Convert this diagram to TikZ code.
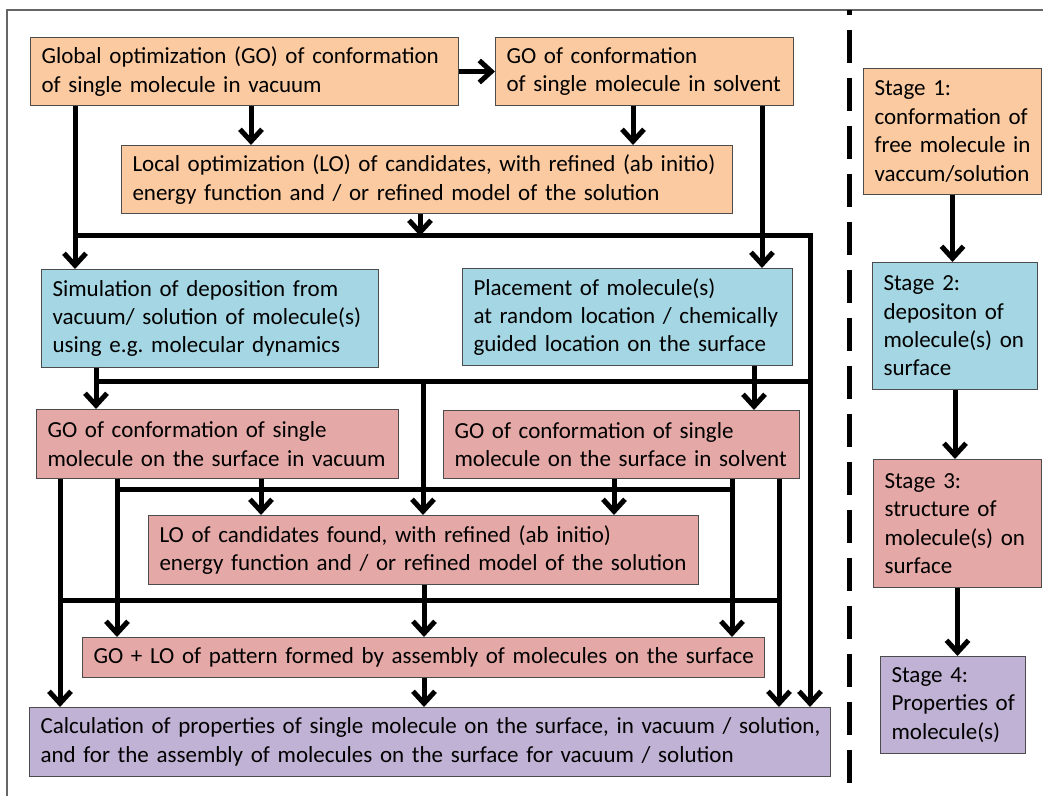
\documentclass[tikz,border=0pt]{standalone}
\usepackage{fontspec}
\setmainfont{Carlito}
\usepackage{tikz}
\usetikzlibrary{arrows.meta}

\definecolor{stageone}{RGB}{251,202,160}
\definecolor{stagetwo}{RGB}{165,214,227}
\definecolor{stagethree}{RGB}{228,168,166}
\definecolor{stagefour}{RGB}{192,178,212}

\hyphenpenalty=10000
\linepenalty=1000

\begin{document}
\begin{tikzpicture}[x=0.5pt,y=-0.5pt,>={Straight Barb[length=6pt,width=11pt]},
    box/.style={draw=black!70,line width=0.5pt,anchor=north west,
                inner xsep=5.5pt,inner ysep=0pt,font=\fontsize{11.5}{14.2}\selectfont,
                execute at begin node={\raggedright\rightskip=0pt plus 1fil minus 10pt\relax}},
    flow/.style={line width=2.5pt},
    frame/.style={draw=black!60,line width=0.6pt}]
  \useasboundingbox (0,0) rectangle (1043,796);

  % frame and divider
  \draw[frame] (7,796) -- (7,10) -- (1043,10);
  \draw[line width=2.5pt,dash pattern=on 16.5pt off 7.5pt,dash phase=14pt] (849,10) -- (849,796);

  % stage 1: free molecule
  \node[box,fill=stageone,text width=203pt,minimum height=34pt] (globvac) at (30,37)
    {Global optimization (GO) of conformation\\of single molecule in vacuum};
  \node[box,fill=stageone,text width=138pt,minimum height=34pt] (globsol) at (495,37)
    {GO of conformation\\of single molecule in solvent};
  \node[box,fill=stageone,text width=294.5pt,minimum height=34pt] (locopt) at (121,145)
    {Local optimization (LO) of candidates, with refined (ab initio)\\energy function and / or refined model of the solution};

  % stage 2: deposition
  \node[box,fill=stagetwo,text width=157.5pt,minimum height=49pt] (depsim) at (41,269)
    {Simulation of deposition from\\vacuum/ solution of molecule(s)\\using e.g.\ molecular dynamics};
  \node[box,fill=stagetwo,text width=154pt,minimum height=48.5pt] (placement) at (462,268)
    {Placement of molecule(s)\\at random location / chemically\\guided location on the surface};

  % stage 3: structure on surface
  \node[box,fill=stagethree,text width=170pt,minimum height=34.5pt] (surfvac) at (36,409)
    {GO of conformation of single\\molecule on the surface in vacuum};
  \node[box,fill=stagethree,text width=167pt,minimum height=34pt] (surfsol) at (443,410)
    {GO of conformation of single\\molecule on the surface in solvent};
  \node[box,fill=stagethree,text width=264pt,minimum height=34.5pt] (losurf) at (148,515)
    {LO of candidates found, with refined (ab initio)\\energy function and / or refined model of the solution};
  \node[box,fill=stagethree,text width=330pt,minimum height=20pt] (pattern) at (82,637)
    {GO + LO of pattern formed by assembly of molecules on the surface};

  % stage 4: properties
  \node[box,fill=stagefour,text width=389.5pt,minimum height=34.5pt] (props) at (29,707)
    {Calculation of properties of single molecule on the surface, in vacuum / solution,\\and for the assembly of molecules on the surface for vacuum / solution};

  % legend of stages
  \node[box,fill=stageone,text width=78pt,minimum height=63pt] (stage1) at (863,68)
    {Stage 1:\\conformation of\\free molecule in\\vaccum/solution};
  \node[box,fill=stagetwo,text width=71.5pt,minimum height=63.5pt] (stage2) at (872,262)
    {Stage 2:\\depositon of\\molecule(s) on\\surface};
  \node[box,fill=stagethree,text width=73pt,minimum height=64pt] (stage3) at (873,459)
    {Stage 3:\\structure of\\molecule(s) on\\surface};
  \node[box,fill=stagefour,text width=61.5pt,minimum height=48.5pt] (stage4) at (880,656)
    {Stage 4:\\Properties of\\molecule(s)};

  % junctions of the busses
  \coordinate (lo1) at (251,125);
  \coordinate (lo2) at (633,125);
  \coordinate (b1w) at (75,236);
  \coordinate (b1m) at (420,236);
  \coordinate (b1s) at (762,236);
  \coordinate (b1e) at (810,236);
  \coordinate (b2w) at (96,381);
  \coordinate (b2m) at (423,381);
  \coordinate (b2s) at (754,381);
  \coordinate (b2e) at (810,381);
  \coordinate (b3w) at (117,489);
  \coordinate (b3a) at (261,489);
  \coordinate (b3b) at (614,489);
  \coordinate (b3e) at (732,489);
  \coordinate (b4w) at (60,600);
  \coordinate (b4m) at (424,600);
  \coordinate (b4e) at (779,600);

  \draw[flow,->] (globvac) -- (globsol);
  \draw[flow,->] (globvac.south -| lo1) -- (locopt.north -| lo1);
  \draw[flow,->] (globsol.south -| lo2) -- (locopt.north -| lo2);
  \draw[flow,->] (globvac.south -| b1w) -- (depsim.north -| b1w);
  \draw[flow,->] (locopt.south -| b1m) -- (b1m);
  \draw[flow,->] (b1w) -- (b1e) -- (props.north -| b1e);
  \draw[flow,->] (globsol.south -| b1s) -- (placement.north -| b1s);

  \draw[flow,->] (depsim.south -| b2w) -- (surfvac.north -| b2w);
  \draw[flow,->] (placement.south -| b2s) -- (surfsol.north -| b2s);
  \draw[flow] (b2w) -- (b2e);
  \draw[flow,->] (b2m) -- (losurf.north -| b2m);

  \draw[flow,->] (surfvac.south -| b4w) -- (props.north -| b4w);
  \draw[flow,->] (surfvac.south -| b3w) -- (pattern.north -| b3w);
  \draw[flow,->] (surfvac.south -| b3a) -- (losurf.north -| b3a);
  \draw[flow,->] (surfsol.south -| b3b) -- (losurf.north -| b3b);
  \draw[flow,->] (surfsol.south -| b3e) -- (pattern.north -| b3e);
  \draw[flow,->] (surfsol.south -| b4e) -- (props.north -| b4e);
  \draw[flow] (b3w) -- (b3e);
  \draw[flow] (b4w) -- (b4e);
  \draw[flow,->] (losurf.south -| b4m) -- (pattern.north -| b4m);
  \draw[flow,->] (pattern.south -| b4m) -- (props.north -| b4m);

  \draw[flow,->] (stage1) -- (stage2.north -| stage1);
  \draw[flow,->] (stage2) -- (stage3.north -| stage2);
  \draw[flow,->] (stage3) -- (stage4.north -| stage3);
\end{tikzpicture}
\end{document}
